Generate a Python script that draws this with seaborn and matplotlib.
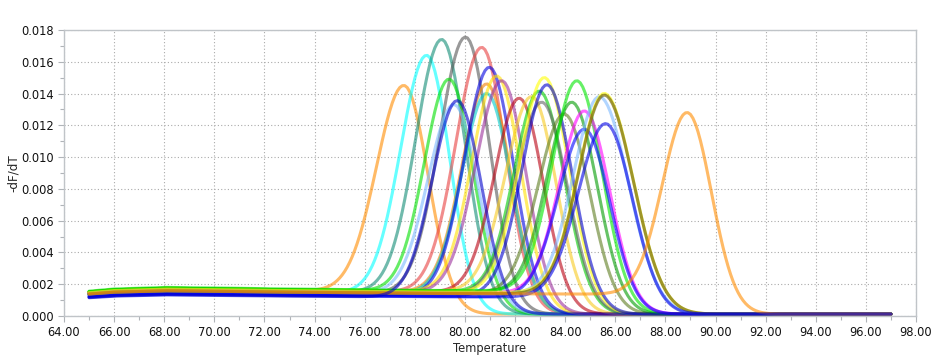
import numpy as np
import pandas as pd
import seaborn as sns
import matplotlib
matplotlib.use("Agg")
import matplotlib.pyplot as plt
from matplotlib.ticker import MultipleLocator, FormatStrFormatter
from math import erf

# peak parameters (one entry per curve)
tm = [77.6, 78.5, 79.1, 80.05, 80.7, 79.4, 79.6, 80.9, 80.9, 81.0, 81.3, 81.5,
      82.2, 82.7, 83.0, 83.1, 83.2, 83.3, 84.0, 84.3, 84.5, 84.8, 84.8, 85.4,
      85.6, 85.6, 85.65, 88.9, 79.72]
height = [0.0145, 0.0164, 0.0174, 0.01755, 0.0169, 0.0149, 0.0133, 0.0146, 0.0140, 0.01565, 0.0151, 0.0148,
          0.0137, 0.0138, 0.01415, 0.01345, 0.0150, 0.01455, 0.0127, 0.01345, 0.0148, 0.0129, 0.01175, 0.0138,
          0.0140, 0.0139, 0.0121, 0.0128, 0.01355]
sig_left = [1.1, 1.05, 1.05, 1.05, 1.05, 1.0, 1.05, 1.0, 1.0, 1.0, 1.0, 1.05,
            1.0, 1.05, 1.0, 1.05, 1.0, 1.0, 1.05, 1.0, 1.0, 1.0, 1.05, 1.05,
            1.05, 1.05, 1.1, 1.0, 1.0]
sig_right = [0.95, 0.9, 0.95, 0.95, 0.95, 0.95, 0.95, 0.95, 0.95, 0.95, 0.95, 0.95,
             0.95, 0.95, 1.0, 1.0, 1.0, 1.0, 1.0, 1.0, 1.0, 1.0, 1.0, 1.15,
             1.15, 1.15, 1.05, 0.95, 0.95]
base_pre = [0.00160, 0.00150, 0.00155, 0.00150, 0.00160, 0.00165, 0.00150, 0.00160, 0.00150, 0.00140, 0.00165, 0.00155,
            0.00160, 0.00165, 0.00165, 0.00150, 0.00160, 0.00135, 0.00150, 0.00165, 0.00170, 0.00155, 0.00130, 0.00150,
            0.00160, 0.00150, 0.00128, 0.00150, 0.00125]
colors = ['#FF8C00', '#00FFFF', '#118C75', '#555555', '#E83F3F', '#00E000', '#7DBAFF', '#F08000', '#00CCCC', '#0000E0',
          '#FFE000', '#9B309B', '#BA0011', '#F7CA20', '#00CC00', '#666666', '#FFFF00', '#0000CC', '#5E7D20', '#009B00',
          '#00E600', '#FF00FF', '#0000FF', '#7DBAFF', '#FFFF00', '#5E4F00', '#0000E6', '#FF8C00', '#0000CC']

drift_t = [65, 66, 68, 70, 72, 74, 76, 78, 80, 84, 97]
drift_v = [0.92, 1.0, 1.06, 1.04, 1.01, 0.99, 0.97, 0.95, 0.94, 0.92, 0.92]
base_post = 0.00012

t = np.arange(65.0, 97.01, 0.1)
drift = np.interp(t, drift_t, drift_v)

rows = []
for i in range(len(tm)):
    d = t - tm[i]
    s = np.where(d < 0, sig_left[i], sig_right[i])
    frac = np.array([0.5 * (1 + erf(v / (1.1 * np.sqrt(2)))) for v in d])
    base = base_post + (base_pre[i] * drift - base_post) * (1 - frac)
    base_at_tm = base_post + (base_pre[i] * np.interp(tm[i], drift_t, drift_v) - base_post) * 0.5
    peak = (height[i] - base_at_tm) * np.exp(-0.5 * (d / s) ** 2)
    y = peak + base
    rows.append(pd.DataFrame({'T': t, 'v': y, 'curve': f'c{i:02d}'}))
df = pd.concat(rows, ignore_index=True)

sns.set_style("white")
plt.rcParams['font.family'] = ['DejaVu Sans']

fig = plt.figure(figsize=(9.46, 3.6), dpi=100)
ax = fig.add_axes([64 / 946, 1 - 316 / 360, 852 / 946, 286 / 360])

pal = {f'c{i:02d}': colors[i] for i in range(len(tm))}
sns.lineplot(data=df, x='T', y='v', hue='curve', palette=pal, legend=False,
             linewidth=2.2, alpha=0.6, sort=False, ax=ax)

ax.set_xlim(64, 98)
ax.set_ylim(0, 0.018)
ax.xaxis.set_major_locator(MultipleLocator(2))
ax.xaxis.set_minor_locator(MultipleLocator(1))
ax.yaxis.set_major_locator(MultipleLocator(0.002))
ax.yaxis.set_minor_locator(MultipleLocator(0.001))
ax.xaxis.set_major_formatter(FormatStrFormatter('%.2f'))
ax.yaxis.set_major_formatter(FormatStrFormatter('%.3f'))
ax.grid(True, which='major', linestyle=(0, (1, 2)), color='#aaaaaa', linewidth=0.8)
ax.tick_params(which='both', direction='out', color='#b0b4b8', labelsize=8.3,
               labelcolor='#111111', bottom=True, left=True)
ax.tick_params(which='major', length=4, width=0.8)
ax.tick_params(which='minor', length=3, width=0.8)
for sp in ax.spines.values():
    sp.set_color('#c0c4c8')
    sp.set_linewidth(1.0)

ax.set_xlabel('Temperature', fontsize=8.3, labelpad=2)
ax.set_ylabel('-dF/dT', fontsize=8.6, labelpad=1)

fig.savefig('out.png', dpi=100)
